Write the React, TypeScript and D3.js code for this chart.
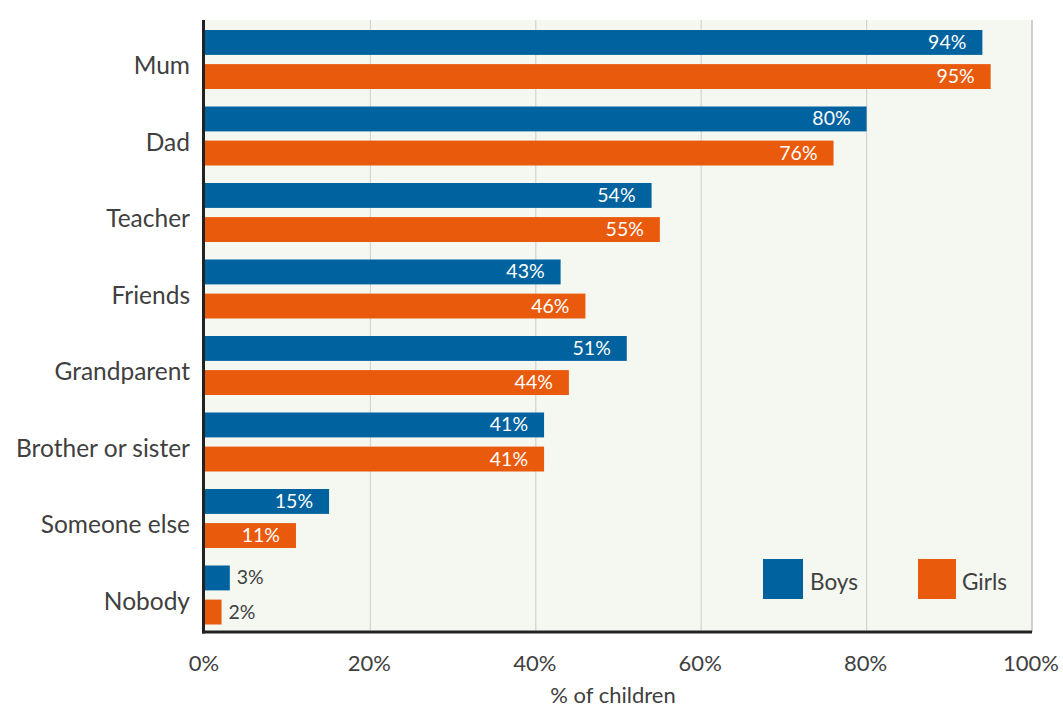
import React from "react";
import * as d3 from "d3";

const categories = ["Mum", "Dad", "Teacher", "Friends", "Grandparent", "Brother or sister", "Someone else", "Nobody"];
const seriesNames = ["Boys", "Girls"];
const boys = [94, 80, 54, 43, 51, 41, 15, 3];
const girls = [95, 76, 55, 46, 44, 41, 11, 2];
const xTicks = [0, 20, 40, 60, 80, 100];
const colors = ["#00629e", "#e95a0c"];

const W = 1063, H = 709;
const left = 205, right = 1032, top = 20, bottom = 632;
const FONT = "Lato, 'Source Sans Pro', sans-serif";
const TEXT = "#404040";

export default function App() {
  const x = d3.scaleLinear().domain([0, 100]).range([left, right]);
  const y = d3.scaleBand<string>().domain(categories).range([top, bottom]);
  const inner = d3.scaleBand<string>().domain(seriesNames).range([10, 69]).paddingInner(0.27);
  const values = [boys, girls];
  return (
    <svg width={W} height={H} style={{ position: "absolute", left: 0, top: 0 }} fontFamily={FONT}>
      <rect x={left} y={top} width={right - left} height={bottom - top} fill="#f5f8f1" />
      {xTicks.filter(t => t > 0).map(t => (
        <line key={t} x1={x(t)} x2={x(t)} y1={top} y2={bottom} stroke={t === 100 ? "#cfcfcf" : "#d3d3d3"} strokeWidth={t === 100 ? 2 : 1.2} />
      ))}
      {categories.map((c, i) => (
        <g key={c}>
          {seriesNames.map((s, j) => {
            const v = values[j][i];
            const by = (y(c) as number) + (inner(s) as number);
            const bh = inner.bandwidth();
            const inside = v >= 10;
            return (
              <g key={s}>
                <rect x={x(0)} y={by} width={x(v) - x(0)} height={bh} fill={colors[j]} />
                <text
                  x={inside ? x(v) - 16 : x(v) + 7}
                  y={by + bh / 2 + 6.5}
                  textAnchor={inside ? "end" : "start"}
                  fill={inside ? "#ffffff" : TEXT}
                  fontSize={19.5}
                >{v}%</text>
              </g>
            );
          })}
          <text x={190} y={(y(c) as number) + y.bandwidth() / 2 + 16} textAnchor="end" fill={TEXT} fontSize={24.5}>{c}</text>
        </g>
      ))}
      <line x1={left - 1.5} x2={left - 1.5} y1={top} y2={bottom + 1.5} stroke="#222" strokeWidth={3} />
      <line x1={left - 3} x2={right} y1={bottom} y2={bottom} stroke="#222" strokeWidth={3} />
      {xTicks.map(t => (
        <text key={t} x={x(t) - 1} y={671} textAnchor="middle" fill={TEXT} fontSize={22}>{t}%</text>
      ))}
      <text x={613} y={703} textAnchor="middle" fill={TEXT} fontSize={22}>% of children</text>
      <rect x={763} y={559} width={40} height={40} fill={colors[0]} />
      <text x={810} y={590} fill={TEXT} fontSize={22.5}>Boys</text>
      <rect x={918} y={559} width={38} height={40} fill={colors[1]} />
      <text x={962} y={590} fill={TEXT} fontSize={22.5}>Girls</text>
    </svg>
  );
}
